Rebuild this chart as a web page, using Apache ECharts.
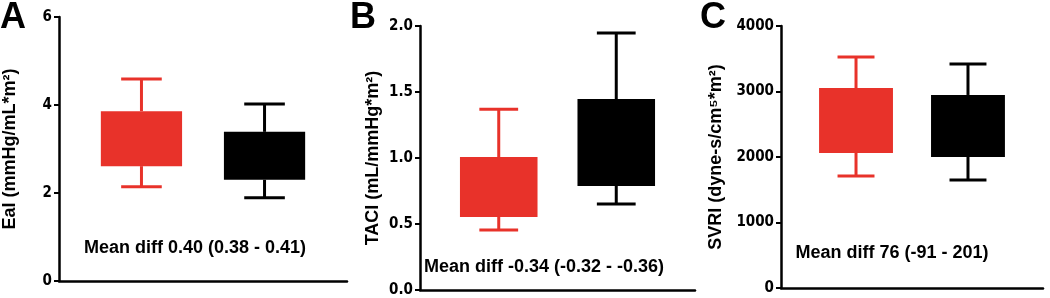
<!DOCTYPE html>
<html>
<head>
<meta charset="utf-8">
<script src="https://cdn.jsdelivr.net/npm/echarts@6/dist/echarts.min.js"></script>
<style>
  html, body { margin: 0; padding: 0; background: #fff; }
  #main { width: 1050px; height: 298px; }
</style>
</head>
<body>
<div id="main"></div>
<script>
// 数据 (min, Q1, Q3, max)
var groupPos = [1, 2];
var groupColors = ['#e8322a', '#000000'];
var eaiRed = [2.14, 2.61, 3.86, 4.59];
var eaiBlack = [1.89, 2.30, 3.39, 4.02];
var taciRed = [0.455, 0.553, 1.007, 1.37];
var taciBlack = [0.652, 0.788, 1.447, 1.947];
var svriRed = [1710, 2061, 3053, 3527];
var svriBlack = [1649, 2000, 2947, 3420];
var panelLetters = ['A', 'B', 'C'];
var yNames = ['EaI (mmHg/mL*m\u00B2)', 'TACI (mL/mmHg*m\u00B2)', 'SVRI (dyne-s/cm\u2075*m\u00B2)'];
var yMax = [6, 2, 4000];
var yInterval = [2, 0.5, 1000];
var diffText = ['Mean diff 0.40 (0.38 - 0.41)', 'Mean diff -0.34 (-0.32 - -0.36)', 'Mean diff 76 (-91 - 201)'];

var myChart = echarts.init(document.getElementById('main'), null, { renderer: 'canvas' });

// 三个面板的位置
var grids = [
    { left: 58, top: 17, width: 289, height: 264 },
    { left: 420, top: 26, width: 275, height: 264 },
    { left: 781, top: 26, width: 262, height: 262 }
];
var nameGaps = [40, 38, 56];
var letterX = [0, 350, 700];
var diffPos = [[195, 248], [544, 267], [892, 253]];
var boxW = 0.66;

function boxItem(params, api) {
    var xv = api.value(0);
    var pMin = api.coord([xv, api.value(1)]);
    var pQ1 = api.coord([xv, api.value(2)]);
    var pQ3 = api.coord([xv, api.value(3)]);
    var pMax = api.coord([xv, api.value(4)]);
    var w = api.size([boxW, 0])[0];
    var c = groupColors[params.dataIndex];
    var ls = { stroke: c, lineWidth: 3 };
    return {
        type: 'group',
        children: [
            { type: 'line', shape: { x1: pMax[0], y1: pMax[1], x2: pQ3[0], y2: pQ3[1] }, style: ls },
            { type: 'line', shape: { x1: pMin[0], y1: pMin[1], x2: pQ1[0], y2: pQ1[1] }, style: ls },
            { type: 'line', shape: { x1: pMax[0] - w / 4, y1: pMax[1], x2: pMax[0] + w / 4, y2: pMax[1] }, style: ls },
            { type: 'line', shape: { x1: pMin[0] - w / 4, y1: pMin[1], x2: pMin[0] + w / 4, y2: pMin[1] }, style: ls },
            { type: 'rect', shape: { x: pQ3[0] - w / 2, y: pQ3[1], width: w, height: pQ1[1] - pQ3[1] }, style: { fill: c } }
        ]
    };
}

var panels = [[eaiRed, eaiBlack], [taciRed, taciBlack], [svriRed, svriBlack]];
var xAxes = [], yAxes = [], series = [], graphics = [];
panels.forEach(function (p, i) {
    xAxes.push({
        gridIndex: i, type: 'value', min: 0.33, max: 2.67,
        axisLine: { show: true, onZero: false, lineStyle: { color: '#000', width: 2.5 } },
        axisTick: { show: false }, axisLabel: { show: false }, splitLine: { show: false }
    });
    yAxes.push({
        gridIndex: i, type: 'value', min: 0, max: yMax[i], interval: yInterval[i],
        name: yNames[i], nameLocation: 'middle', nameGap: nameGaps[i],
        nameTextStyle: { fontFamily: 'Liberation Sans, Arial', fontWeight: 'bold', fontSize: 18, color: '#000' },
        axisLine: { show: true, lineStyle: { color: '#000', width: 2.5 } },
        axisTick: { show: true, length: 5, lineStyle: { color: '#000', width: 2 } },
        axisLabel: {
            margin: 7, color: '#000', fontFamily: 'Liberation Sans Narrow, DejaVu Sans Condensed', fontWeight: 'bold', fontSize: 15,
            formatter: function (v) { return i === 1 ? v.toFixed(1) : String(v); }
        },
        splitLine: { show: false }
    });
    series.push({
        type: 'custom', xAxisIndex: i, yAxisIndex: i,
        renderItem: boxItem,
        encode: { x: 0, y: [1, 2, 3, 4] },
        data: [[groupPos[0]].concat(p[0]), [groupPos[1]].concat(p[1])]
    });
    graphics.push({
        type: 'text', left: letterX[i], top: 0,
        style: { text: panelLetters[i], font: 'bold 36px Liberation Sans, Arial', fill: '#000' }
    });
    graphics.push({
        type: 'text', x: diffPos[i][0], y: diffPos[i][1],
        style: { text: diffText[i], font: 'bold 18px Liberation Sans, Arial', fill: '#000', textAlign: 'center', textVerticalAlign: 'middle' }
    });
});

var option = {
    animation: false,
    grid: grids,
    xAxis: xAxes,
    yAxis: yAxes,
    series: series,
    graphic: graphics
};
myChart.setOption(option);
</script>
</body>
</html>
